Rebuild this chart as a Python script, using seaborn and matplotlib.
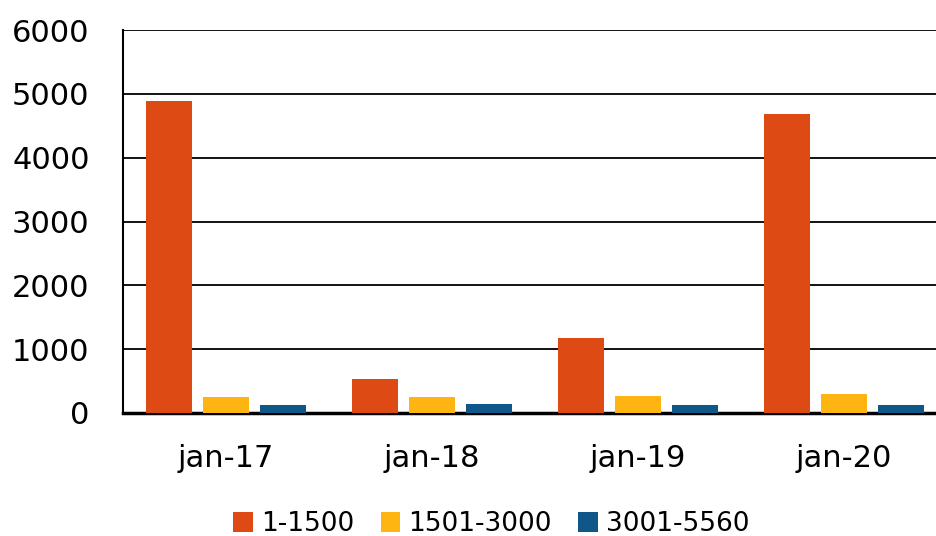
import seaborn as sns
import matplotlib.pyplot as plt
import pandas as pd

# data
months = ['jan-17', 'jan-18', 'jan-19', 'jan-20']
groups = ['1-1500', '1501-3000', '3001-5560']
v_small = [4890, 535, 1180, 4690]
v_mid = [255, 250, 270, 300]
v_large = [125, 140, 120, 125]
colors = ['#DD4A14', '#FFB511', '#105789']

df = pd.DataFrame({
    'month': months * 3,
    'group': [groups[0]] * 4 + [groups[1]] * 4 + [groups[2]] * 4,
    'value': v_small + v_mid + v_large,
})

sns.set_style('white')
plt.rcParams['font.family'] = ['DejaVu Sans']

fig = plt.figure(figsize=(9.36, 5.36), dpi=100)
ax = fig.add_axes([123 / 936, 1 - 413 / 536, 1 - 123 / 936, 383 / 536])

sns.barplot(data=df, x='month', y='value', hue='group', palette=colors,
            width=0.83, gap=0.19, saturation=1, linewidth=0, ax=ax, zorder=3)

ax.set_ylim(0, 6000)
ax.set_xlim(-0.5, 3.447)
ax.set_yticks(range(0, 6001, 1000))
ax.yaxis.grid(True, color='black', linewidth=1.3, zorder=0)
ax.set_axisbelow(True)
ax.set_xlabel('')
ax.set_ylabel('')
ax.tick_params(axis='both', labelsize=22, length=0, colors='black')
ax.tick_params(axis='x', pad=22)
ax.tick_params(axis='y', pad=24)
for s in ['top', 'right']:
    ax.spines[s].set_visible(False)
ax.spines['left'].set_color('black')
ax.spines['left'].set_linewidth(1.5)
ax.spines['bottom'].set_color('black')
ax.spines['bottom'].set_linewidth(2.5)

ax.legend(loc='center', bbox_to_anchor=(0.453, -0.29),
          ncol=3, frameon=False, fontsize=19, labelcolor='black',
          handlelength=0.75, handleheight=0.75,
          handletextpad=0.3, columnspacing=1.0)

fig.savefig('out.png', dpi=100)
